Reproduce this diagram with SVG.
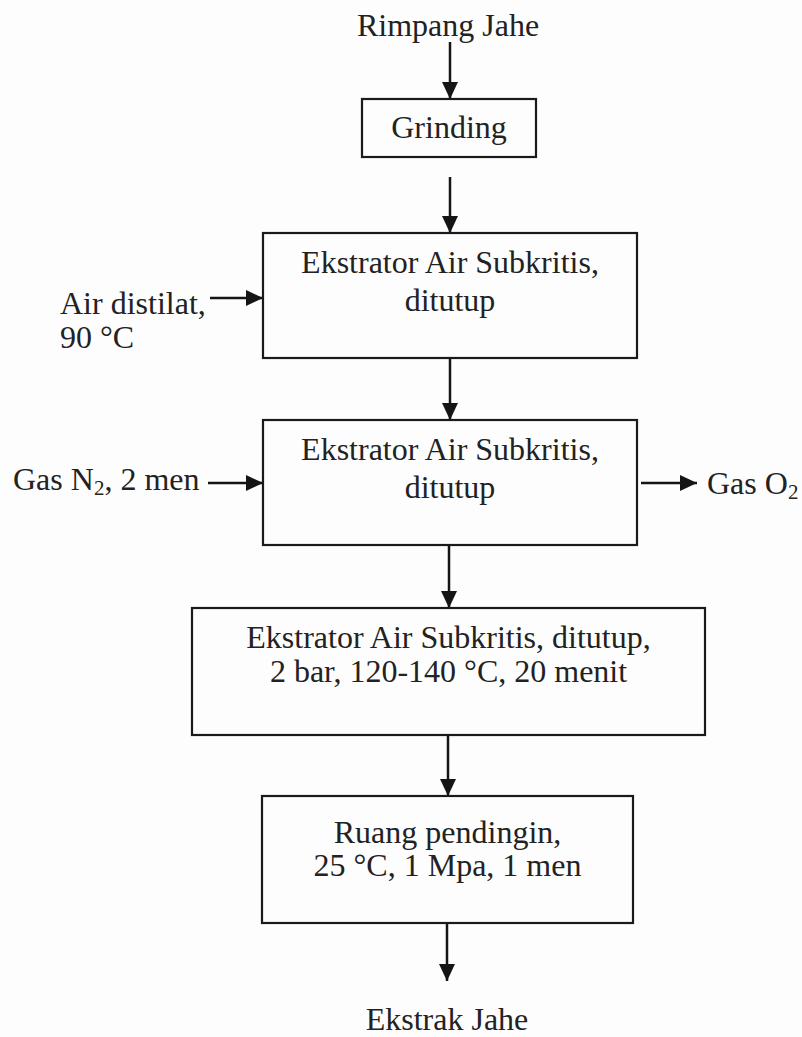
<svg xmlns="http://www.w3.org/2000/svg" width="802" height="1037" viewBox="0 0 802 1037">
<defs>
<marker id="ah" viewBox="0 0 17 16" refX="17" refY="8" markerWidth="17" markerHeight="16" markerUnits="userSpaceOnUse" orient="auto">
<path d="M0,0 L17,8 L0,16 Z" fill="#151515"/>
</marker>
<style>
text{font-family:'Liberation Serif','Times New Roman',serif;font-size:32px;fill:#222}
.c{text-anchor:middle}
.box{fill:none;stroke:#1a1a1a;stroke-width:2.2}
.ln{stroke:#151515;stroke-width:2.5;fill:none;marker-end:url(#ah)}
.sub{font-size:21px}
</style>
</defs>
<rect width="802" height="1037" fill="#fdfdfd"/>
<g id="connectors">
<line class="ln" x1="450" y1="42" x2="450" y2="99"/>
<line class="ln" x1="450" y1="177" x2="450" y2="233"/>
<line class="ln" x1="210" y1="298" x2="263" y2="298"/>
<line class="ln" x1="450" y1="358" x2="450" y2="420"/>
<line class="ln" x1="208" y1="483" x2="263" y2="483"/>
<line class="ln" x1="641" y1="483" x2="697" y2="483"/>
<line class="ln" x1="449" y1="545" x2="449" y2="608"/>
<line class="ln" x1="448" y1="735" x2="448" y2="796"/>
<line class="ln" x1="447" y1="923" x2="447" y2="981"/>
</g>
<g id="rimpang"><text class="c" x="448" y="36">Rimpang Jahe</text></g>
<g id="grinding">
<rect class="box" x="362" y="99" width="174" height="58"/>
<text class="c" x="449" y="138">Grinding</text>
</g>
<g id="air-distilat">
<text x="60" y="314" font-size="31">Air distilat,</text>
<text x="60" y="348" font-size="31">90 °C</text>
</g>
<g id="ekstrator1">
<rect class="box" x="263" y="233" width="374" height="125"/>
<text class="c" x="450" y="273">Ekstrator Air Subkritis,</text>
<text class="c" x="450" y="311">ditutup</text>
</g>
<g id="gas-n2"><text x="13" y="490">Gas N<tspan class="sub" dy="5">2</tspan><tspan dy="-5">, 2 men</tspan></text></g>
<g id="ekstrator2">
<rect class="box" x="263" y="420" width="374" height="125"/>
<text class="c" x="450" y="460">Ekstrator Air Subkritis,</text>
<text class="c" x="450" y="498">ditutup</text>
</g>
<g id="gas-o2"><text x="707" y="494">Gas O<tspan class="sub" dy="5">2</tspan></text></g>
<g id="ekstrator3">
<rect class="box" x="192" y="608" width="513" height="127"/>
<text class="c" x="448.5" y="648">Ekstrator Air Subkritis, ditutup,</text>
<text class="c" x="448.5" y="682">2 bar, 120-140 °C, 20 menit</text>
</g>
<g id="pendingin">
<rect class="box" x="262" y="796" width="371" height="127"/>
<text class="c" x="447.5" y="843">Ruang pendingin,</text>
<text class="c" x="447.5" y="876">25 °C, 1 Mpa, 1 men</text>
</g>
<g id="ekstrak"><text class="c" x="447" y="1030">Ekstrak Jahe</text></g>
</svg>
